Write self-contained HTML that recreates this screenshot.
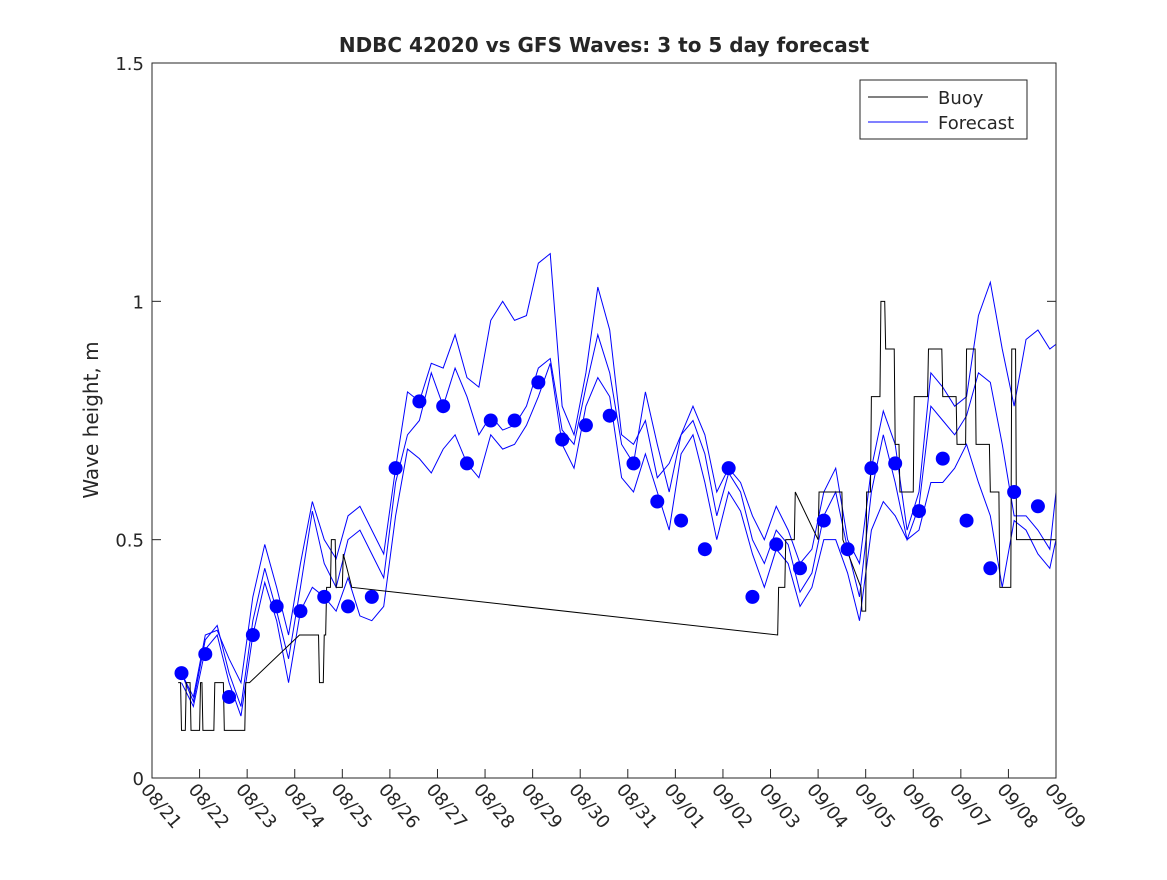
<!DOCTYPE html>
<html><head><meta charset="utf-8"><style>
body{margin:0;background:#fff}
svg text{font-family:"DejaVu Sans","Liberation Sans",sans-serif;fill:#262626}
</style></head><body>
<svg id="c" width="1167" height="875">
<rect width="1167" height="875" fill="#fff"/>
<text x="604" y="52" text-anchor="middle" font-size="20" font-weight="bold" fill="#000">NDBC 42020 vs GFS Waves: 3 to 5 day forecast</text>
<text transform="translate(98,420) rotate(-90)" text-anchor="middle" font-size="20">Wave height, m</text>
<g id="marks"></g>
<rect x="152" y="63" width="904" height="715" fill="none" stroke="#262626" stroke-width="1"/>
<g id="axes"></g>
<g>
<rect x="860" y="80" width="167" height="59" fill="#fff" stroke="#262626"/>
<line x1="868" y1="97" x2="928" y2="97" stroke="#000"/>
<text x="938" y="104" font-size="18">Buoy</text>
<line x1="868" y1="122" x2="928" y2="122" stroke="#00f"/>
<text x="938" y="129" font-size="18">Forecast</text>
</g>
</svg>
<script>
const xTicks=["08/21","08/22","08/23","08/24","08/25","08/26","08/27","08/28","08/29","08/30","08/31","09/01","09/02","09/03","09/04","09/05","09/06","09/07","09/08","09/09"];
const yTicks=[0,0.5,1,1.5];
const yTickLabels=["0","0.5","1","1.5"];
const dotDays=[0.62,1.12,1.62,2.12,2.62,3.12,3.62,4.12,4.62,5.12,5.62,6.12,6.62,7.12,7.62,8.12,8.62,9.12,9.62,10.12,10.62,11.12,11.62,12.12,12.62,13.12,13.62,14.12,14.62,15.12,15.62,16.12,16.62,17.12,17.62,18.12,18.62];
const dotVals=[0.22,0.26,0.17,0.30,0.36,0.35,0.38,0.36,0.38,0.65,0.79,0.78,0.66,0.75,0.75,0.83,0.71,0.74,0.76,0.66,0.58,0.54,0.48,0.65,0.38,0.49,0.44,0.54,0.48,0.65,0.66,0.56,0.67,0.54,0.44,0.60,0.57];
const buoyDays=[0.55,0.6,0.62,0.7,0.72,0.8,0.82,1.0,1.02,1.05,1.07,1.3,1.32,1.5,1.52,1.95,1.97,2.05,3.1,3.5,3.52,3.6,3.62,3.65,3.67,3.75,3.77,3.85,3.87,4.0,4.02,4.2,13.15,13.17,13.3,13.32,13.5,13.52,14.0,14.02,14.5,14.52,14.9,14.92,15.0,15.02,15.1,15.12,15.3,15.32,15.4,15.42,15.6,15.62,15.7,15.72,16.0,16.02,16.3,16.32,16.6,16.62,16.9,16.92,17.1,17.12,17.3,17.32,17.6,17.62,17.8,17.82,18.05,18.07,18.15,18.17,18.6,18.62,19];
const buoyVals=[0.2,0.2,0.1,0.1,0.2,0.2,0.1,0.1,0.2,0.2,0.1,0.1,0.2,0.2,0.1,0.1,0.2,0.2,0.3,0.3,0.2,0.2,0.3,0.3,0.4,0.4,0.5,0.5,0.4,0.4,0.47,0.4,0.3,0.4,0.4,0.5,0.5,0.6,0.5,0.6,0.6,0.5,0.4,0.35,0.35,0.6,0.6,0.8,0.8,1.0,1.0,0.9,0.9,0.7,0.7,0.6,0.6,0.8,0.8,0.9,0.9,0.8,0.8,0.7,0.7,0.9,0.9,0.7,0.7,0.6,0.6,0.4,0.4,0.9,0.9,0.5,0.5,0.5,0.5];
const fcDays=[0.62,0.87,1.12,1.37,1.62,1.87,2.12,2.37,2.62,2.87,3.12,3.37,3.62,3.87,4.12,4.37,4.62,4.87,5.12,5.37,5.62,5.87,6.12,6.37,6.62,6.87,7.12,7.37,7.62,7.87,8.12,8.37,8.62,8.87,9.12,9.37,9.62,9.87,10.12,10.37,10.62,10.87,11.12,11.37,11.62,11.87,12.12,12.37,12.62,12.87,13.12,13.37,13.62,13.87,14.12,14.37,14.62,14.87,15.12,15.37,15.62,15.87,16.12,16.37,16.62,16.87,17.12,17.37,17.62,17.87,18.12,18.37,18.62,18.87,19.0];
const fcHigh=[0.22,0.17,0.3,0.31,0.25,0.2,0.38,0.49,0.4,0.3,0.45,0.58,0.5,0.46,0.55,0.57,0.52,0.47,0.65,0.81,0.79,0.87,0.86,0.93,0.84,0.82,0.96,1.0,0.96,0.97,1.08,1.1,0.78,0.72,0.85,1.03,0.94,0.72,0.7,0.75,0.63,0.66,0.72,0.78,0.72,0.6,0.65,0.62,0.55,0.5,0.57,0.52,0.45,0.48,0.6,0.65,0.5,0.45,0.65,0.77,0.7,0.52,0.6,0.85,0.82,0.78,0.8,0.97,1.04,0.9,0.78,0.92,0.94,0.9,0.91];
const fcMid=[0.22,0.16,0.29,0.32,0.22,0.15,0.33,0.44,0.35,0.25,0.4,0.56,0.45,0.4,0.5,0.52,0.47,0.42,0.62,0.72,0.75,0.85,0.78,0.86,0.8,0.72,0.76,0.73,0.74,0.78,0.86,0.88,0.73,0.7,0.82,0.93,0.85,0.7,0.66,0.81,0.7,0.6,0.72,0.75,0.68,0.55,0.64,0.6,0.5,0.45,0.52,0.49,0.39,0.43,0.55,0.6,0.48,0.38,0.6,0.72,0.62,0.5,0.57,0.78,0.75,0.72,0.76,0.85,0.83,0.7,0.55,0.55,0.52,0.48,0.6];
const fcLow=[0.2,0.15,0.27,0.3,0.2,0.13,0.3,0.41,0.33,0.2,0.35,0.4,0.38,0.35,0.42,0.34,0.33,0.36,0.55,0.69,0.67,0.64,0.69,0.72,0.66,0.63,0.72,0.69,0.7,0.74,0.8,0.87,0.7,0.65,0.78,0.84,0.8,0.63,0.6,0.68,0.6,0.52,0.68,0.72,0.62,0.5,0.6,0.56,0.47,0.4,0.48,0.45,0.36,0.4,0.5,0.5,0.43,0.33,0.52,0.58,0.55,0.5,0.52,0.62,0.62,0.65,0.7,0.62,0.55,0.4,0.54,0.52,0.47,0.44,0.5];
const X0=152,X1=1056,Y0=778,Y1=63,ND=19,YMAX=1.5;
const xs=d=>X0+(X1-X0)*d/ND, ys=v=>Y0-(Y0-Y1)*v/YMAX;
const NS="http://www.w3.org/2000/svg";
const marks=document.getElementById('marks'),axes=document.getElementById('axes');
function mk(tag,attrs,parent){const e=document.createElementNS(NS,tag);for(const k in attrs)e.setAttribute(k,attrs[k]);parent.appendChild(e);return e;}
function line(days,vals,color,name){
 const p=mk('polyline',{points:days.map((d,i)=>xs(d)+','+ys(vals[i])).join(' '),fill:'none',stroke:color,'stroke-width':1},marks);
 
 
}
line(fcDays,fcHigh,'#00f','forecast-line-high');
line(fcDays,fcMid,'#00f','forecast-line-mid');
line(fcDays,fcLow,'#00f','forecast-line-low');
line(buoyDays,buoyVals,'#000','buoy-line');
dotDays.forEach((d,i)=>{
 const c=mk('circle',{cx:xs(d),cy:ys(dotVals[i]),r:7,fill:'#00f'},marks);
 
 
});
xTicks.forEach((t,i)=>{
 const x=xs(i);
 mk('line',{x1:x,y1:Y0,x2:x,y2:Y0-9,stroke:'#262626'},axes);
 const tx=mk('text',{x:0,y:0,'font-size':18,'text-anchor':'start'},axes);
 tx.setAttribute('transform',`translate(${x-12},${Y0+12}) rotate(50)`);
 tx.textContent=t;
 
 
});
yTicks.forEach((v,i)=>{
 const y=ys(v);
 mk('line',{x1:X0,y1:y,x2:X0+9,y2:y,stroke:'#262626'},axes);
 mk('line',{x1:X1,y1:y,x2:X1-9,y2:y,stroke:'#262626'},axes);
 const tx=mk('text',{x:X0-8,y:y+7,'font-size':18,'text-anchor':'end'},axes);
 tx.textContent=yTickLabels[i];
 
 
});
</script>
</body></html>
